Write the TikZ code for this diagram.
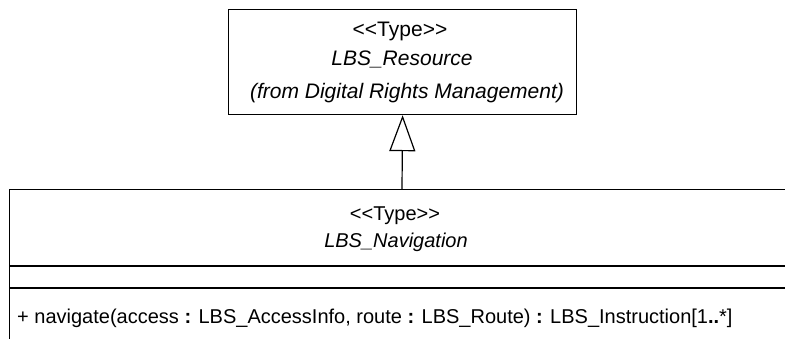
\documentclass[tikz,border=0pt]{standalone}
\usepackage{fontspec}
\setmainfont{Liberation Sans}
\usetikzlibrary{arrows.meta}
\newcommand{\stereo}[1]{{<}{<}#1{>}{>}}
\begin{document}
\begin{tikzpicture}[x=1pt,y=-1pt,
  umlline/.style={draw=black, line width=1.2pt},
  umltext/.style={anchor=base, inner sep=0pt, font=\fontsize{20}{24}\selectfont},
  toptext/.style={umltext, font=\fontsize{21}{25}\selectfont},
  generalization/.style={umlline, -{Triangle[open, length=36pt, width=26pt, line width=1.2pt]}}]
  \clip (0,0) rectangle (785,338);
  \fill[white] (0,0) rectangle (785,338);

  % parent type
  \node[umlline, anchor=north west, minimum width=348pt, minimum height=105pt, inner sep=0pt] (res) at (228,9) {};
  \node[toptext] (resst) at (400,36) {\stereo{Type}};
  \node[toptext] (resname) at (402,65) {\itshape LBS\_Resource};
  \node[toptext] (respkg) at (407,98) {\itshape (from Digital Rights Management)};

  % child type (extends past the right and bottom edges)
  \node[umlline, anchor=north west, minimum width=820pt, minimum height=200pt, inner sep=0pt] (nav) at (9,189) {};
  \draw[umlline] (9,266) -- (800,266);
  \draw[umlline] (9,288) -- (800,288);
  \node[umltext] (navst) at (395,220) {\stereo{Type}};
  \node[umltext] (navname) at (396,247) {\itshape LBS\_Navigation};
  \node[umltext, anchor=base west] (navop) at (17,323)
    {+ navigate(access \textbf{:} LBS\_AccessInfo, route \textbf{:} LBS\_Route) \textbf{:} LBS\_Instruction[1\textbf{..}*]};

  % generalization
  \coordinate (navtop) at (402,189);
  \draw[generalization] (navtop) -- (res.south);
\end{tikzpicture}
\end{document}
